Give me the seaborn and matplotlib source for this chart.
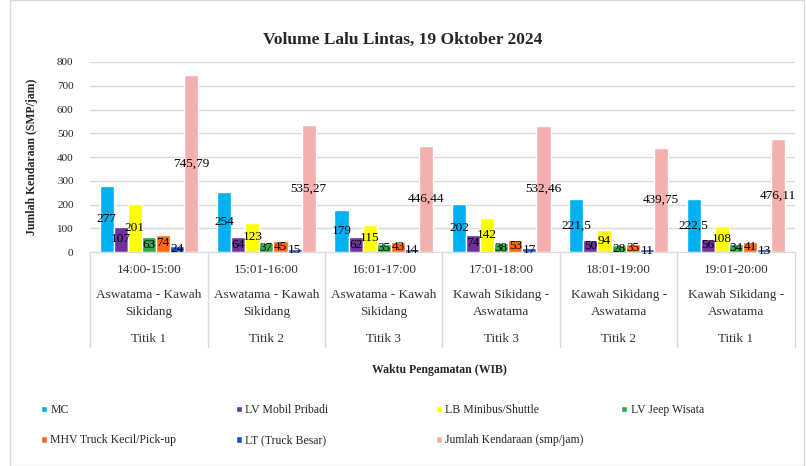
import numpy as np
import pandas as pd
import seaborn as sns
import matplotlib.pyplot as plt
from matplotlib.patches import Rectangle
import matplotlib.transforms as mtransforms

waktu = ["14:00-15:00", "15:01-16:00", "16:01-17:00", "17:01-18:00", "18:01-19:00", "19:01-20:00"]
arah = ["Aswatama - Kawah\nSikidang", "Aswatama - Kawah\nSikidang", "Aswatama - Kawah\nSikidang",
        "Kawah Sikidang -\nAswatama", "Kawah Sikidang -\nAswatama", "Kawah Sikidang -\nAswatama"]
titik = ["Titik 1", "Titik 2", "Titik 3", "Titik 3", "Titik 2", "Titik 1"]

series = ["MC", "LV Mobil Pribadi", "LB Minibus/Shuttle", "LV Jeep Wisata",
          "MHV Truck Kecil/Pick-up", "LT (Truck Besar)", "Jumlah Kendaraan (smp/jam)"]
mc = [277, 254, 179, 202, 221.5, 222.5]
lv_mobil = [107, 64, 62, 74, 50, 56]
lb_minibus = [201, 123, 115, 142, 94, 108]
lv_jeep = [63, 37, 35, 38, 28, 34]
mhv_truck = [74, 45, 43, 53, 35, 41]
lt_truck = [24, 15, 14, 17, 11, 13]
jumlah = [745.79, 535.27, 446.44, 532.46, 439.75, 476.11]
colors = ["#00B0F0", "#7030A0", "#FFFF00", "#2EAA4A", "#FF6A13", "#1F4FCC", "#F4B0AE"]

values = [mc, lv_mobil, lb_minibus, lv_jeep, mhv_truck, lt_truck, jumlah]
rows = []
for name, vals in zip(series, values):
    for w, v in zip(waktu, vals):
        rows.append({"waktu": w, "jenis": name, "nilai": v})
df = pd.DataFrame(rows)

sns.set_style("white")
plt.rcParams['font.family'] = ['Liberation Serif', 'DejaVu Serif']

fig = plt.figure(figsize=(8.06, 4.66), dpi=100)
ax = fig.add_axes([0.112, 0.459, 0.874, 0.408])
sns.barplot(data=df, x="waktu", y="nilai", hue="jenis", palette=colors,
            width=0.84, ax=ax, legend=True, saturation=1)

def fmt(v):
    if float(v).is_integer():
        return str(int(v))
    return ("%g" % v).replace(".", ",")

for cont, vals in zip(ax.containers, values):
    ax.bar_label(cont, labels=[fmt(v) for v in vals], label_type="center",
                 fontsize=9.5, color="black")

ax.set_ylim(0, 800)
ax.set_yticks(range(0, 801, 100))
ax.tick_params(axis="y", labelsize=8, length=0, pad=12)
ax.yaxis.grid(True, color="#D9D9D9", linewidth=1)
ax.set_axisbelow(True)
for s in ["top", "right", "left"]:
    ax.spines[s].set_visible(False)
ax.spines["bottom"].set_color("#D9D9D9")
ax.set_xlim(-0.5, 5.5)
ax.set_xticks([])
ax.set_xlabel("")
ax.set_ylabel("Jumlah Kendaraan (SMP/jam)", fontsize=8.5, fontweight="bold", labelpad=14)

trans = mtransforms.blended_transform_factory(ax.transData, ax.transAxes)
for i in range(6):
    ax.text(i, -0.095, waktu[i], transform=trans, ha="center", va="center", fontsize=9.5, color="#333333")
    ax.text(i, -0.27, arah[i], transform=trans, ha="center", va="center", fontsize=9.5,
            color="#333333", linespacing=1.55)
    ax.text(i, -0.455, titik[i], transform=trans, ha="center", va="center", fontsize=9.5, color="#333333")
for xb in np.arange(-0.5, 6.0, 1.0):
    ax.plot([xb, xb], [0, -0.5], transform=trans, color="#D9D9D9", linewidth=1, clip_on=False)

fig.text(0.5, 0.915, "Volume Lalu Lintas, 19 Oktober 2024", ha="center", va="center",
         fontsize=12.5, fontweight="bold")
fig.text(0.545, 0.205, "Waktu Pengamatan (WIB)", ha="center", va="center",
         fontsize=8.5, fontweight="bold")

handles, labels = ax.get_legend_handles_labels()
ax.get_legend().remove()
col_x = [0.045, 0.287, 0.535, 0.765]
col_items = [[0, 4], [1, 5], [2, 6], [3]]
for cx, idx in zip(col_x, col_items):
    lg = fig.legend([handles[k] for k in idx], [labels[k] for k in idx], loc="upper left",
                    bbox_to_anchor=(cx, 0.143), ncol=1, frameon=False, fontsize=8.5,
                    handlelength=0.5, handleheight=0.5, handletextpad=0.3, labelspacing=1.55,
                    borderaxespad=0, borderpad=0.4)

fig.patches.append(Rectangle((0.012, 0.0), 0.986, 0.999, transform=fig.transFigure,
                             fill=False, edgecolor="#D9D9D9", linewidth=1))

fig.savefig("out.png", dpi=100)
